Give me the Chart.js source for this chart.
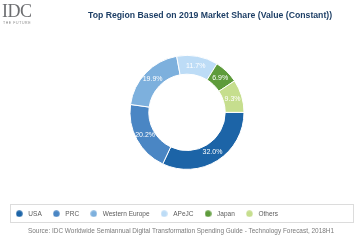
<!DOCTYPE html>
<html><head><meta charset="utf-8">
<script src="https://cdn.jsdelivr.net/npm/chart.js@4"></script>
<style>
html,body{margin:0;padding:0;background:#fff;}
#wrap{position:relative;width:359px;height:250px;overflow:hidden;font-family:"Liberation Sans",Arial,sans-serif;}
#c{position:absolute;left:0;top:0;}
#logo{position:absolute;left:2px;top:0px;font-family:"Liberation Serif","Times New Roman",serif;font-size:18px;color:#6d6e71;letter-spacing:-0.5px;line-height:22px;}
#tag{position:absolute;left:3px;top:21px;font-size:3.5px;color:#8a8a8a;letter-spacing:0.6px;}
#title{position:absolute;left:88px;top:10px;font-size:8.7px;font-weight:bold;color:#1e3f66;white-space:nowrap;}
#src{position:absolute;left:28px;top:227px;font-size:6.45px;color:#7a7a7a;white-space:nowrap;}
</style></head>
<body><div id="wrap">
<canvas id="c" width="359" height="250"></canvas>
<div id="logo">IDC</div><div id="tag">THE FUTURE</div>
<div id="title">Top Region Based on 2019 Market Share (Value (Constant))</div>
<div id="src">Source: IDC Worldwide Semiannual Digital Transformation Spending Guide - Technology Forecast, 2018H1</div>
</div>
<script>
const categories = ["USA", "PRC", "Western Europe", "APeJC", "Japan", "Others"];
const shares = [32.0, 20.2, 19.9, 11.7, 6.9, 9.3];
const colors = ["#1c64a7", "#4a86c4", "#7db0dd", "#bddcf6", "#5e9b3b", "#c6de8e"];

function dotImage(color) {
  const c = document.createElement('canvas');
  c.width = 7; c.height = 7;
  const g = c.getContext('2d');
  g.fillStyle = color;
  g.beginPath();
  g.arc(3.5, 3.5, 3.2, 0, Math.PI * 2);
  g.fill();
  return c;
}
const dots = colors.map(dotImage);

const labelPlugin = {
  id: 'sliceLabels',
  afterDatasetsDraw(chart) {
    const ctx = chart.ctx;
    const meta = chart.getDatasetMeta(0);
    ctx.save();
    ctx.fillStyle = '#ffffff';
    ctx.font = '7px "Liberation Sans", Arial, sans-serif';
    ctx.textAlign = 'center';
    ctx.textBaseline = 'middle';
    meta.data.forEach((arc, i) => {
      const p = arc.getCenterPoint();
      ctx.fillText(shares[i].toFixed(1) + '%', p.x, p.y);
    });
    ctx.restore();
  }
};
const legendFrame = {
  id: 'legendFrame',
  afterLayout(chart) {
    chart.legend.left = 4.7;
  },
  beforeDraw(chart) {
    const ctx = chart.ctx;
    ctx.save();
    ctx.strokeStyle = '#dcdcdc';
    ctx.lineWidth = 1;
    ctx.strokeRect(10.5, 204.5, 343, 18);
    ctx.restore();
  }
};

new Chart(document.getElementById('c'), {
  type: 'doughnut',
  data: {
    labels: categories,
    datasets: [{
      data: shares,
      backgroundColor: colors,
      borderColor: '#ffffff',
      borderWidth: 1
    }]
  },
  options: {
    responsive: false,
    animation: false,
    rotation: 90,
    radius: 57,
    cutout: '67%',
    layout: { padding: { left: 15, right: 0, top: 23, bottom: 23 } },
    plugins: {
      legend: {
        position: 'bottom',
        align: 'start',
        labels: {
          usePointStyle: true,
          pointStyleWidth: 11.6,
          boxHeight: 6.5,
          padding: 8.8,
          color: '#5a5a5a',
          font: { size: 6.5, family: '"Liberation Sans", Arial, sans-serif' },
          generateLabels(chart) {
            const items = Chart.overrides.doughnut.plugins.legend.labels.generateLabels(chart);
            items.forEach((it, i) => { it.pointStyle = dots[i]; });
            return items;
          }
        }
      },
      tooltip: { enabled: false },
      title: { display: false }
    }
  },
  plugins: [labelPlugin, legendFrame]
});
</script>
</body></html>
